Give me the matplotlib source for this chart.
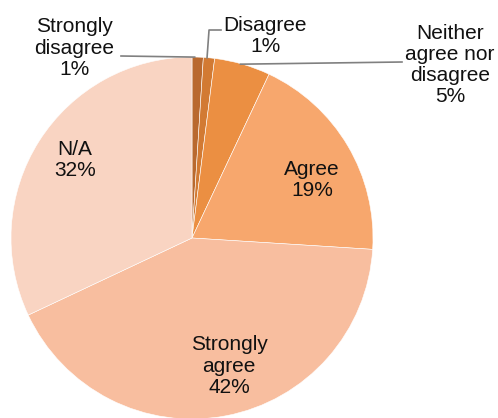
import numpy as np
import matplotlib.pyplot as plt

plt.rcParams['font.family'] = ['Liberation Sans', 'DejaVu Sans']

# Survey responses, clockwise from 12 o'clock
labels = ['Strongly\ndisagree', 'Disagree', 'Neither\nagree nor\ndisagree',
          'Agree', 'Strongly\nagree', 'N/A']
shares = [1, 1, 5, 19, 42, 32]
colors = ['#b9692f', '#d27a33', '#eb8f42', '#f7a76d', '#f8be9f', '#f9d4c2']

W, H = 498, 418
fig = plt.figure(figsize=(W / 100, H / 100), dpi=100)
ax = fig.add_axes([0, 0, 1, 1])

cx, cy, r = 192, H - 238, 181
wedges, _ = ax.pie(shares, colors=colors, startangle=90, counterclock=False,
                   center=(cx, cy), radius=r,
                   wedgeprops=dict(edgecolor='white', linewidth=0.4), frame=True)
ax.set_xlim(0, W)
ax.set_ylim(0, H)
ax.set_aspect('equal')
ax.axis('off')

# label centres (x, y from top)
label_pos = [(74, 48), (265, 36), (450, 65), (312, 180), (229, 366), (75, 160)]
fs = 15
for lab, val, (lx, ly) in zip(labels, shares, label_pos):
    ax.text(lx, H - ly, f'{lab}\n{val}%', ha='center', va='center',
            fontsize=fs, color='#111111', linespacing=1.15)


def edge_point(w):
    ang = np.deg2rad((w.theta1 + w.theta2) / 2)
    return cx + r * np.cos(ang), cy + r * np.sin(ang)


lc = '#808080'
# Strongly disagree leader
x0, y0 = edge_point(wedges[0])
ax.plot([121, x0 - 3], [H - 56, y0], color=lc, lw=1.2)
# Disagree leader
x1, y1 = edge_point(wedges[1])
ax.plot([x1 - 2, x1, 221], [y1, H - 30, H - 30], color=lc, lw=1.2)
# Neither leader
x2, y2 = edge_point(wedges[2])
ax.plot([x2 - 2, 402], [y2, H - 62], color=lc, lw=1.2)

fig.savefig('out.png', dpi=100)
